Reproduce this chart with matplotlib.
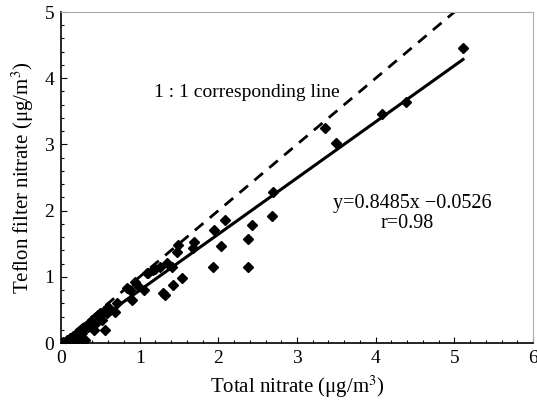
import numpy as np
import matplotlib
matplotlib.use("Agg")
import matplotlib.pyplot as plt
from matplotlib.ticker import MultipleLocator

plt.rcParams["font.family"] = ["Liberation Serif", "DejaVu Serif"]
plt.rcParams["mathtext.fontset"] = "stix"

# total nitrate vs teflon filter nitrate (ug/m3)
total = [0.02, 0.05, 0.08, 0.10, 0.12, 0.15, 0.17, 0.18, 0.20, 0.22, 0.24,
         0.25, 0.27, 0.28, 0.30, 0.32, 0.34, 0.36, 0.38, 0.40, 0.42, 0.44,
         0.45, 0.47, 0.48, 0.50, 0.52, 0.55, 0.56, 0.58, 0.60, 0.62, 0.69,
         0.71, 0.84, 0.88, 0.90, 0.94, 0.97, 1.05, 1.09, 1.11, 1.17, 1.19,
         1.26, 1.30, 1.32, 1.35, 1.41, 1.42, 1.47, 1.49, 1.54, 1.68, 1.69,
         1.93, 1.94, 2.03, 2.08, 2.38, 2.38, 2.43, 2.68, 2.69, 3.35, 3.49,
         4.08, 4.38, 5.11]
teflon = [0.02, 0.00, 0.05, 0.03, 0.08, 0.10, 0.02, 0.12, 0.15, 0.07, 0.00,
          0.18, 0.15, 0.22, 0.05, 0.25, 0.24, 0.30, 0.28, 0.35, 0.20, 0.38,
          0.30, 0.42, 0.40, 0.45, 0.35, 0.48, 0.20, 0.45, 0.55, 0.50, 0.47,
          0.60, 0.83, 0.80, 0.65, 0.92, 0.88, 0.80, 1.06, 1.06, 1.10, 1.12,
          1.15, 0.76, 0.73, 1.21, 1.15, 0.88, 1.37, 1.48, 0.98, 1.43, 1.53,
          1.15, 1.71, 1.47, 1.86, 1.57, 1.15, 1.78, 1.92, 2.28, 3.25, 3.02,
          3.46, 3.64, 4.45]

slope = 0.8485
intercept = -0.0526

fig = plt.figure(figsize=(5.37, 4.07), dpi=100)
ax = fig.add_axes([0.1136, 0.1572, 0.8790, 0.8133])

xfit = np.linspace(0, 5.11, 50)
ax.plot(xfit, slope * xfit + intercept, color="black", lw=2.2, zorder=2)
ax.plot([0, 5.2], [0, 5.2], color="black", lw=2.0, ls=(0, (4, 3)), zorder=2)
ax.plot(total, teflon, ls="none", marker="D", ms=5.2, color="black", zorder=3)

ax.set_xlim(0, 6)
ax.set_ylim(0, 5)
ax.xaxis.set_major_locator(MultipleLocator(1))
ax.yaxis.set_major_locator(MultipleLocator(1))
ax.xaxis.set_minor_locator(MultipleLocator(0.2))
ax.yaxis.set_minor_locator(MultipleLocator(0.2))
ax.tick_params(which="both", direction="in", top=False, right=False,
               labelsize=14, width=0.8, pad=5)
ax.tick_params(which="major", length=4)
ax.tick_params(which="minor", length=2)

for side in ["top", "right"]:
    ax.spines[side].set_color("#aaaaaa")
    ax.spines[side].set_linestyle((0, (1, 1)))
    ax.spines[side].set_linewidth(0.8)
for side in ["left", "bottom"]:
    ax.spines[side].set_linewidth(1.2)

ax.set_xlabel("Total nitrate (μg/m$^3$)", fontsize=15, labelpad=5)
ax.set_ylabel("Teflon filter nitrate (μg/m$^3$)", fontsize=15, labelpad=6)

ax.text(2.36, 3.79, "1 : 1 corresponding line", fontsize=14,
        ha="center", va="center")
ax.text(3.46, 2.11, "y=0.8485x −0.0526", fontsize=14.5, ha="left", va="center")
ax.text(4.40, 1.81, "r=0.98", fontsize=14.5, ha="center", va="center")

fig.savefig("out.png", dpi=100, facecolor="white")
